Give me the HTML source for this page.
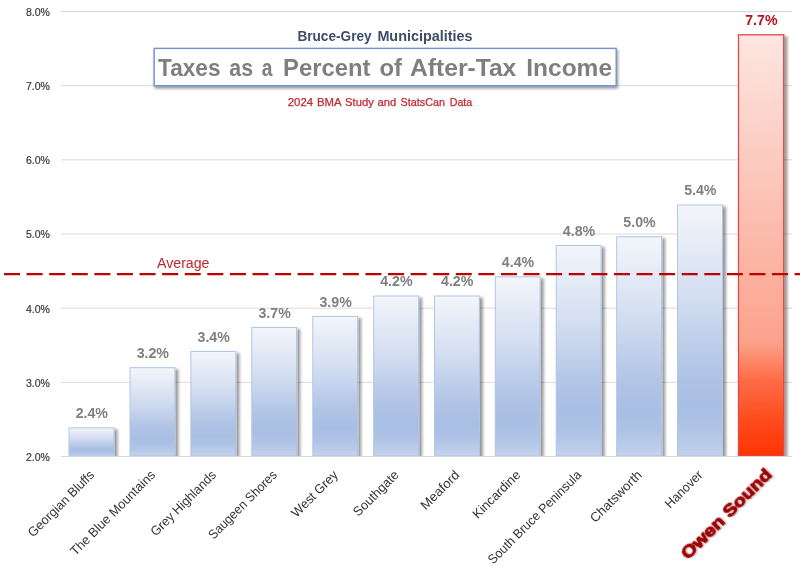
<!DOCTYPE html>
<html><head><meta charset="utf-8"><title>Taxes as a Percent of After-Tax Income</title>
<style>
html,body{margin:0;padding:0;background:#fff;}
body{width:800px;height:567px;overflow:hidden;font-family:"Liberation Sans",sans-serif;}
svg{display:block;}
text{font-family:"Liberation Sans",sans-serif;}
svg{opacity:0.999;}
</style></head><body>
<svg width="800" height="567" viewBox="0 0 800 567">
<defs>
<linearGradient id="gb" x1="0" y1="0" x2="0" y2="1">
<stop offset="0" stop-color="#f3f6fb"/>
<stop offset="0.35" stop-color="#d5dff1"/>
<stop offset="0.68" stop-color="#afc3e5"/>
<stop offset="0.8" stop-color="#a8bee3"/>
<stop offset="0.88" stop-color="#adc2e5"/>
<stop offset="1" stop-color="#c3d2ec"/>
</linearGradient>
<linearGradient id="gr" x1="0" y1="0" x2="0" y2="1">
<stop offset="0" stop-color="#fee6e1"/>
<stop offset="0.25" stop-color="#fccfc5"/>
<stop offset="0.5" stop-color="#fcb8a8"/>
<stop offset="0.73" stop-color="#fba28c"/>
<stop offset="0.82" stop-color="#ff6c46"/>
<stop offset="0.92" stop-color="#ff4a1c"/>
<stop offset="1" stop-color="#ff3300"/>
</linearGradient>
<filter id="sh" x="-20%" y="-5%" width="150%" height="110%">
<feGaussianBlur in="SourceAlpha" stdDeviation="1.55"/>
<feOffset dx="2.8" dy="1.5" result="o"/>
<feComponentTransfer><feFuncA type="linear" slope="0.41"/></feComponentTransfer>
<feMerge><feMergeNode/><feMergeNode in="SourceGraphic"/></feMerge>
</filter>
<filter id="tsh" x="-5%" y="-20%" width="110%" height="160%">
<feGaussianBlur in="SourceAlpha" stdDeviation="1.8"/>
<feOffset dx="1.2" dy="2.2" result="o"/>
<feComponentTransfer><feFuncA type="linear" slope="0.45"/></feComponentTransfer>
<feMerge><feMergeNode/><feMergeNode in="SourceGraphic"/></feMerge>
</filter>
<filter id="osh" x="-10%" y="-40%" width="120%" height="200%">
<feGaussianBlur in="SourceAlpha" stdDeviation="0.8"/>
<feOffset dx="0.8" dy="0.8" result="o"/>
<feComponentTransfer><feFuncA type="linear" slope="0.28"/></feComponentTransfer>
<feMerge><feMergeNode/><feMergeNode in="SourceGraphic"/></feMerge>
</filter>
</defs>
<rect width="800" height="567" fill="#ffffff"/>

<g stroke="#d9d9d9" stroke-width="1">
<line x1="61" y1="11.5" x2="792" y2="11.5"/>
<line x1="61" y1="85.67" x2="792" y2="85.67"/>
<line x1="61" y1="159.83" x2="792" y2="159.83"/>
<line x1="61" y1="234.0" x2="792" y2="234.0"/>
<line x1="61" y1="308.17" x2="792" y2="308.17"/>
<line x1="61" y1="382.33" x2="792" y2="382.33"/>
<line x1="61" y1="456.5" x2="792" y2="456.5"/>
</g>
<g font-size="10.5" fill="#3a3a3a" stroke="#3a3a3a" stroke-width="0.2" text-anchor="end">
<text x="49.9" y="15.9">8.0%</text>
<text x="49.9" y="90.1">7.0%</text>
<text x="49.9" y="164.2">6.0%</text>
<text x="49.9" y="238.4">5.0%</text>
<text x="49.9" y="312.6">4.0%</text>
<text x="49.9" y="386.7">3.0%</text>
<text x="49.9" y="460.9">2.0%</text>
</g>
<clipPath id="cp"><rect x="0" y="0" width="800" height="456.2"/></clipPath><g clip-path="url(#cp)">
<rect x="69.0" y="427.9" width="45.0" height="28.1" fill="url(#gb)" stroke="#b1c5e7" stroke-width="1" filter="url(#sh)"/>
<rect x="130.0" y="367.7" width="44.9" height="88.3" fill="url(#gb)" stroke="#b1c5e7" stroke-width="1" filter="url(#sh)"/>
<rect x="190.9" y="351.5" width="45.0" height="104.5" fill="url(#gb)" stroke="#b1c5e7" stroke-width="1" filter="url(#sh)"/>
<rect x="251.8" y="327.5" width="44.9" height="128.5" fill="url(#gb)" stroke="#b1c5e7" stroke-width="1" filter="url(#sh)"/>
<rect x="312.8" y="316.5" width="44.9" height="139.5" fill="url(#gb)" stroke="#b1c5e7" stroke-width="1" filter="url(#sh)"/>
<rect x="373.7" y="296.0" width="44.9" height="160.0" fill="url(#gb)" stroke="#b1c5e7" stroke-width="1" filter="url(#sh)"/>
<rect x="434.5" y="296.0" width="44.8" height="160.0" fill="url(#gb)" stroke="#b1c5e7" stroke-width="1" filter="url(#sh)"/>
<rect x="495.3" y="276.8" width="44.8" height="179.2" fill="url(#gb)" stroke="#b1c5e7" stroke-width="1" filter="url(#sh)"/>
<rect x="556.2" y="245.5" width="44.9" height="210.5" fill="url(#gb)" stroke="#b1c5e7" stroke-width="1" filter="url(#sh)"/>
<rect x="616.7" y="236.8" width="45.0" height="219.2" fill="url(#gb)" stroke="#b1c5e7" stroke-width="1" filter="url(#sh)"/>
<rect x="677.5" y="205.0" width="45.0" height="251.0" fill="url(#gb)" stroke="#b1c5e7" stroke-width="1" filter="url(#sh)"/>
<rect x="738.5" y="34.8" width="45.2" height="421.2" fill="url(#gr)" stroke="#e0494a" stroke-width="1.3" filter="url(#sh)"/>
</g>
<line x1="61" y1="456.5" x2="792" y2="456.5" stroke="#d9d9d9" stroke-width="1"/>
<text x="91.8" y="418.2" font-size="14.2" font-weight="bold" fill="#7f7f7f" text-anchor="middle">2.4%</text>
<text x="152.8" y="358.0" font-size="14.2" font-weight="bold" fill="#7f7f7f" text-anchor="middle">3.2%</text>
<text x="213.7" y="341.8" font-size="14.2" font-weight="bold" fill="#7f7f7f" text-anchor="middle">3.4%</text>
<text x="274.6" y="317.8" font-size="14.2" font-weight="bold" fill="#7f7f7f" text-anchor="middle">3.7%</text>
<text x="335.6" y="306.8" font-size="14.2" font-weight="bold" fill="#7f7f7f" text-anchor="middle">3.9%</text>
<text x="396.4" y="286.3" font-size="14.2" font-weight="bold" fill="#7f7f7f" text-anchor="middle">4.2%</text>
<text x="457.2" y="286.3" font-size="14.2" font-weight="bold" fill="#7f7f7f" text-anchor="middle">4.2%</text>
<text x="518.0" y="267.1" font-size="14.2" font-weight="bold" fill="#7f7f7f" text-anchor="middle">4.4%</text>
<text x="579.0" y="235.8" font-size="14.2" font-weight="bold" fill="#7f7f7f" text-anchor="middle">4.8%</text>
<text x="639.5" y="227.1" font-size="14.2" font-weight="bold" fill="#7f7f7f" text-anchor="middle">5.0%</text>
<text x="700.3" y="195.3" font-size="14.2" font-weight="bold" fill="#7f7f7f" text-anchor="middle">5.4%</text>
<text x="761.4" y="25.1" font-size="14.2" font-weight="bold" fill="#b5121b" text-anchor="middle">7.7%</text>
<line x1="4.0" y1="274.2" x2="800" y2="274.2" stroke="#c00000" stroke-width="2.2" stroke-dasharray="16 6.59"/>
<text x="157" y="267.8" font-size="14" fill="#c0272d" textLength="52.5" lengthAdjust="spacingAndGlyphs">Average</text>
<text transform="translate(90.8,471.5) rotate(-45)" x="0" y="6" font-size="13.0" fill="#333333" text-anchor="end" textLength="87.6" lengthAdjust="spacingAndGlyphs">Georgian Bluffs</text>
<text transform="translate(151.7,471.5) rotate(-45)" x="0" y="6" font-size="13.0" fill="#333333" text-anchor="end" textLength="113.9" lengthAdjust="spacingAndGlyphs">The Blue Mountains</text>
<text transform="translate(212.7,471.5) rotate(-45)" x="0" y="6" font-size="13.0" fill="#333333" text-anchor="end" textLength="86.4" lengthAdjust="spacingAndGlyphs">Grey Highlands</text>
<text transform="translate(273.5,471.5) rotate(-45)" x="0" y="6" font-size="13.0" fill="#333333" text-anchor="end" textLength="91.0" lengthAdjust="spacingAndGlyphs">Saugeen Shores</text>
<text transform="translate(334.5,471.5) rotate(-45)" x="0" y="6" font-size="13.0" fill="#333333" text-anchor="end" textLength="59.6" lengthAdjust="spacingAndGlyphs">West Grey</text>
<text transform="translate(395.4,471.5) rotate(-45)" x="0" y="6" font-size="13.0" fill="#333333" text-anchor="end" textLength="58.4" lengthAdjust="spacingAndGlyphs">Southgate</text>
<text transform="translate(456.1,471.5) rotate(-45)" x="0" y="6" font-size="13.0" fill="#333333" text-anchor="end" textLength="49.1" lengthAdjust="spacingAndGlyphs">Meaford</text>
<text transform="translate(517.0,471.5) rotate(-45)" x="0" y="6" font-size="13.0" fill="#333333" text-anchor="end" textLength="61.4" lengthAdjust="spacingAndGlyphs">Kincardine</text>
<text transform="translate(577.9,471.5) rotate(-45)" x="0" y="6" font-size="13.0" fill="#333333" text-anchor="end" textLength="126.0" lengthAdjust="spacingAndGlyphs">South Bruce Peninsula</text>
<text transform="translate(638.5,471.5) rotate(-45)" x="0" y="6" font-size="13.0" fill="#333333" text-anchor="end" textLength="67.1" lengthAdjust="spacingAndGlyphs">Chatsworth</text>
<text transform="translate(699.2,471.5) rotate(-45)" x="0" y="6" font-size="13.0" fill="#333333" text-anchor="end" textLength="47.2" lengthAdjust="spacingAndGlyphs">Hanover</text>
<text transform="translate(766.4,469.1) rotate(-45)" x="0" y="9" font-size="15.6" font-weight="bold" fill="#9c0006" stroke="#9c0006" stroke-width="0.9" text-anchor="end" textLength="120" lengthAdjust="spacingAndGlyphs" filter="url(#osh)">Owen Sound</text>
<text x="297.4" y="40.6" font-size="14.4" font-weight="bold" fill="#3e4c69" textLength="74.2" lengthAdjust="spacingAndGlyphs">Bruce-Grey</text>
<text x="377.4" y="40.6" font-size="14.4" font-weight="bold" fill="#3e4c69" textLength="95.1" lengthAdjust="spacingAndGlyphs">Municipalities</text>
<rect x="154.2" y="48.4" width="462" height="37.3" fill="#ffffff" stroke="#7093d3" stroke-width="1.4" filter="url(#tsh)"/>
<text x="158" y="75.5" font-size="23.4" font-weight="bold" fill="#7f7f7f" textLength="62.5" lengthAdjust="spacingAndGlyphs">Taxes</text>
<text x="229.3" y="75.5" font-size="23.4" font-weight="bold" fill="#7f7f7f" textLength="23.7" lengthAdjust="spacingAndGlyphs">as</text>
<text x="261.8" y="75.5" font-size="23.4" font-weight="bold" fill="#7f7f7f" textLength="10.7" lengthAdjust="spacingAndGlyphs">a</text>
<text x="283" y="75.5" font-size="23.4" font-weight="bold" fill="#7f7f7f" textLength="87.5" lengthAdjust="spacingAndGlyphs">Percent</text>
<text x="379.5" y="75.5" font-size="23.4" font-weight="bold" fill="#7f7f7f" textLength="22.5" lengthAdjust="spacingAndGlyphs">of</text>
<text x="410" y="75.5" font-size="23.4" font-weight="bold" fill="#7f7f7f" textLength="106.3" lengthAdjust="spacingAndGlyphs">After-Tax</text>
<text x="526.3" y="75.5" font-size="23.4" font-weight="bold" fill="#7f7f7f" textLength="85.7" lengthAdjust="spacingAndGlyphs">Income</text>
<text x="287.7" y="106.2" font-size="11.6" stroke="#c0272d" stroke-width="0.25" fill="#c0272d" textLength="25.4" lengthAdjust="spacingAndGlyphs">2024</text>
<text x="316.9" y="106.2" font-size="11.6" stroke="#c0272d" stroke-width="0.25" fill="#c0272d" textLength="24.6" lengthAdjust="spacingAndGlyphs">BMA</text>
<text x="345" y="106.2" font-size="11.6" stroke="#c0272d" stroke-width="0.25" fill="#c0272d" textLength="28.8" lengthAdjust="spacingAndGlyphs">Study</text>
<text x="377.5" y="106.2" font-size="11.6" stroke="#c0272d" stroke-width="0.25" fill="#c0272d" textLength="18.7" lengthAdjust="spacingAndGlyphs">and</text>
<text x="400.6" y="106.2" font-size="11.6" stroke="#c0272d" stroke-width="0.25" fill="#c0272d" textLength="44.4" lengthAdjust="spacingAndGlyphs">StatsCan</text>
<text x="449.7" y="106.2" font-size="11.6" stroke="#c0272d" stroke-width="0.25" fill="#c0272d" textLength="22.6" lengthAdjust="spacingAndGlyphs">Data</text>
</svg></body></html>
